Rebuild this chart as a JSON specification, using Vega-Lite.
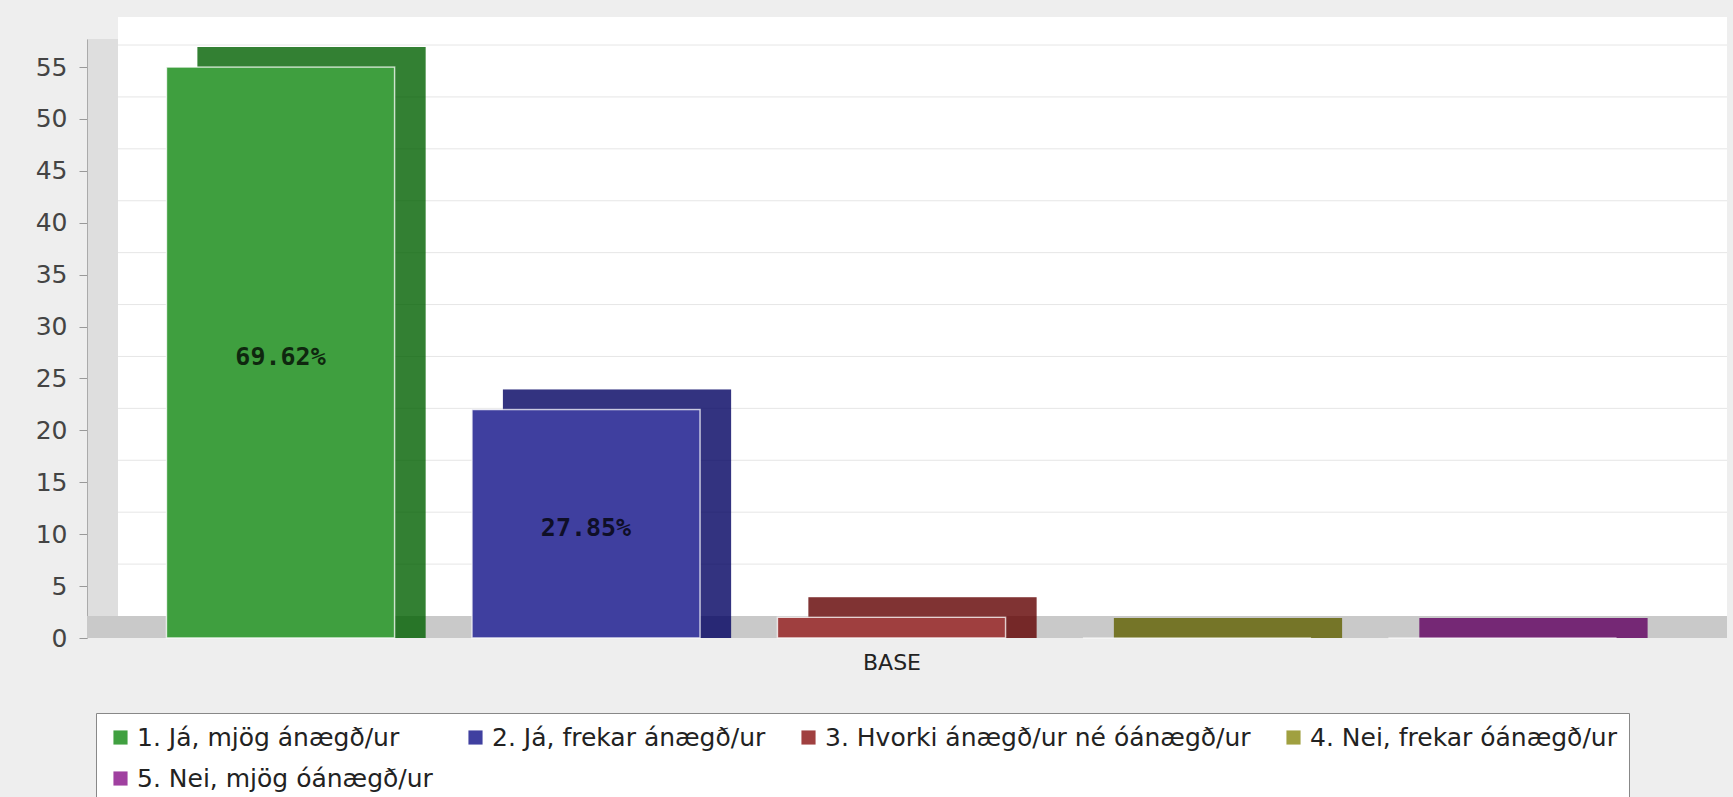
{
  "$schema": "https://vega.github.io/schema/vega-lite/v6.json",
  "width": 1609,
  "height": 599,
  "autosize": {"type": "none"},
  "padding": {"left": 87, "top": 39, "right": 37, "bottom": 159},
  "background": "#eeeeee",
  "config": {
    "font": "DejaVu Sans",
    "view": {"fill": "#dedede", "stroke": null}
  },
  "datasets": {
    "bars": [
      {"series": "1. Já, mjög ánægð/ur", "value": 55, "pct": "69.62%"},
      {"series": "2. Já, frekar ánægð/ur", "value": 22, "pct": "27.85%"},
      {"series": "3. Hvorki ánægð/ur né óánægð/ur", "value": 2, "pct": ""},
      {"series": "4. Nei, frekar óánægð/ur", "value": 0, "pct": ""},
      {"series": "5. Nei, mjög óánægð/ur", "value": 0, "pct": ""}
    ],
    "grid": [
      {"tick": 5}, {"tick": 10}, {"tick": 15}, {"tick": 20}, {"tick": 25}, {"tick": 30},
      {"tick": 35}, {"tick": 40}, {"tick": 45}, {"tick": 50}, {"tick": 55}
    ]
  },
  "layer": [
    {
      "layer": [
        {
          "data": {"values": [{}]},
          "mark": {"type": "rect", "fill": "white", "xOffset": 31, "x2Offset": 31, "yOffset": -22, "y2Offset": -22},
          "encoding": {"x": {"value": 0}, "x2": {"value": "width"}, "y": {"value": 0}, "y2": {"value": "height"}}
        },
        {
          "data": {"values": [{}]},
          "mark": {"type": "rect", "fill": "#c9c9c9", "x2Offset": 31, "y2Offset": -22},
          "encoding": {"x": {"value": 0}, "x2": {"value": "width"}, "y": {"value": "height"}, "y2": {"value": "height"}}
        },
        {
          "data": {"name": "grid"},
          "mark": {"type": "rule", "stroke": "#e6e6e6", "strokeWidth": 1, "xOffset": 31, "x2Offset": 31, "yOffset": -22},
          "encoding": {
            "x": {"value": 0}, "x2": {"value": "width"},
            "y": {"field": "tick", "type": "quantitative", "scale": {"domain": [0, 57.7], "nice": false, "zero": true}}
          }
        },
        {
          "data": {"name": "bars"},
          "mark": {"type": "bar", "opacity": 0.75, "xOffset": 31, "yOffset": -20, "y2Offset": 0},
          "encoding": {
            "x": {"field": "series", "type": "nominal", "scale": {"paddingInner": 0.253, "paddingOuter": 0.26},
                  "axis": {"title": "BASE", "labels": false, "ticks": false, "domain": false, "titleFontSize": 22, "titleFontWeight": "normal", "titlePadding": 14, "titleColor": "#222"}},
            "y": {"field": "value", "type": "quantitative", "scale": {"domain": [0, 57.7], "nice": false},
                  "axis": {"values": [0, 5, 10, 15, 20, 25, 30, 35, 40, 45, 50, 55], "grid": false, "title": null, "labelFontSize": 25, "labelColor": "#444", "tickColor": "#999", "domainColor": "#aaa", "tickSize": 8, "labelPadding": 12}},
            "y2": {"datum": 0},
            "color": {"field": "series", "type": "nominal",
                      "scale": {"range": ["#008000", "#000080", "#800000", "#808000", "#800080"]},
                      "legend": {"orient": "none", "legendX": 9, "legendY": 674, "direction": "horizontal", "columns": 4, "gridAlign": "none", "title": null, "symbolType": "square", "symbolSize": 200, "symbolOpacity": 1, "symbolStrokeWidth": 0, "labelFontSize": 25, "labelColor": "#222", "labelLimit": 700, "columnPadding": 30, "rowPadding": 15, "padding": 12, "strokeColor": "#888", "fillColor": "white", "labelOffset": 4}}
          }
        },
        {
          "data": {"name": "bars"},
          "mark": {"type": "bar", "color": "black", "opacity": 0.2, "xOffset": 31, "yOffset": -20, "y2Offset": 0},
          "encoding": {
            "x": {"field": "series", "type": "nominal"},
            "y": {"field": "value", "type": "quantitative"},
            "y2": {"datum": 0}
          }
        },
        {
          "data": {"name": "bars"},
          "mark": {"type": "bar", "color": "white", "opacity": 1},
          "encoding": {
            "x": {"field": "series", "type": "nominal"},
            "y": {"field": "value", "type": "quantitative"}
          }
        },
        {
          "data": {"name": "bars"},
          "mark": {"type": "bar", "opacity": 0.75, "stroke": "white", "strokeWidth": 1.5, "strokeOpacity": 0.8},
          "encoding": {
            "x": {"field": "series", "type": "nominal"},
            "y": {"field": "value", "type": "quantitative"},
            "color": {"field": "series", "type": "nominal"}
          }
        }
      ]
    },
    {
      "data": {"name": "bars"},
      "mark": {"type": "text", "font": "DejaVu Sans Mono", "fontWeight": "bold", "fontSize": 25, "color": "black", "opacity": 0.75, "dy": 4},
      "encoding": {
        "x": {"field": "series", "type": "nominal"},
        "y": {"field": "value", "type": "quantitative", "scale": {"domain": [0, 115.4], "nice": false}, "axis": null},
        "text": {"field": "pct"}
      }
    }
  ],
  "resolve": {"scale": {"y": "independent"}}
}
